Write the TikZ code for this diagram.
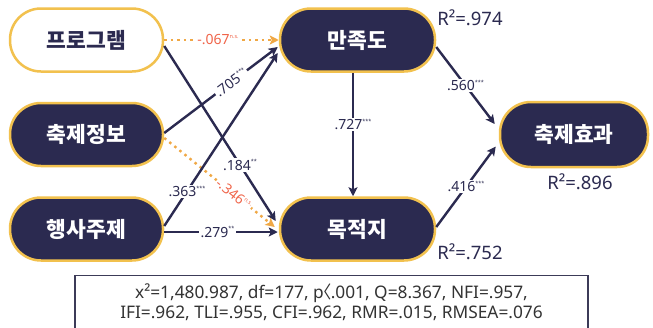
\documentclass[tikz,border=0pt]{standalone}
\usepackage{fontspec}
\setmainfont{Noto Sans}
\newfontfamily\kr{Noto Sans CJK KR}
\usetikzlibrary{arrows.meta,calc}
\definecolor{navy}{HTML}{2B2A50}
\definecolor{gold}{HTML}{F2C14E}
\definecolor{orng}{HTML}{F0A845}
\definecolor{redl}{HTML}{F0654A}
\definecolor{boxtxt}{HTML}{333333}
\definecolor{boxline}{HTML}{3C3B58}
\newcommand{\sig}[1]{\raisebox{0.45em}{\fontsize{5.5}{5.5}\selectfont #1}}
\begin{document}
\begin{tikzpicture}[x=1pt,y=-1pt,
  var/.style={draw=gold, line width=2.5pt, fill=navy, text=white, rounded corners=31pt,
    minimum width=153pt, minimum height=63pt, inner sep=0pt,
    font=\kr\bfseries\fontsize{21.5}{21.5}\selectfont},
  varw/.style={var, fill=white, text=navy},
  pth/.style={navy, line width=2.4pt, -{Stealth[length=9pt,width=9pt,inset=2pt]}},
  nsp/.style={orng, line width=2.4pt, dash pattern=on 2.5pt off 4pt, -{Stealth[length=9pt,width=9pt,inset=2pt]}},
  lab/.style={fill=white, inner sep=1.2pt, text=navy, font=\fontsize{14}{14}\selectfont},
  nslab/.style={lab, text=redl},
  rsq/.style={text=navy, inner sep=0pt, font=\fontsize{18.5}{18.5}\selectfont}
]
\clip (0,0) rectangle (653,327);
\fill[white] (0,0) rectangle (653,327);

% nodes
\node[varw] (prog) at (86.5,40) {프로그램};
\node[var] (info) at (86.5,134.5) {축제정보};
\node[var] (theme) at (86.5,229) {행사주제};
\node[var, minimum width=155pt] (sat) at (357.5,40) {만족도};
\node[var, minimum width=155pt] (dest) at (357.5,229) {목적지};
\node[var, minimum width=148pt, minimum height=65pt] (eff) at (574,134.5) {축제효과};

% connectors
\draw[nsp] (prog.east) -- (sat.west)
  node[nslab, pos=0.47] {-.067\sig{n.s.}};
\draw[pth] ($(prog.east)+(0,6)$) -- ($(dest.west)+(-3,-8)$)
  node[lab, pos=0.68] {.184\sig{**}};
\draw[pth] ($(info.east)+(0,-1.5)$) -- ($(sat.west)+(-1,7)$)
  node[lab, pos=0.59, sloped] {.705\sig{***}};
\draw[nsp] ($(info.east)+(0,3.5)$) -- ($(dest.west)+(-4,-2)$)
  node[nslab, pos=0.63, sloped] {-.346\sig{n.s.}};
\draw[pth] ($(theme.east)+(0,-3)$) -- ($(sat.west)+(-1,13)$)
  node[lab, pos=0.2] {.363\sig{***}};
\draw[pth] ($(theme.east)+(0,3)$) -- ($(dest.west)+(-1,3)$)
  node[lab, pos=0.47] {.279\sig{**}};
\draw[pth] ($(sat.south)+(-4.5,0)$) -- ($(dest.north)+(-4.5,0)$)
  node[lab, pos=0.42] {.727\sig{***}};
\draw[pth] ($(sat.east)+(0,7)$) -- ($(eff.west)+(-4,-10.5)$)
  node[lab, pos=0.5] {.560\sig{***}};
\draw[pth] ($(dest.east)+(0,-2)$) -- ($(eff.west)+(-3,12)$)
  node[lab, pos=0.5] {.416\sig{***}};

% R squared
\node[rsq] (r1) at (470,18) {R²=.974};
\node[rsq] (r2) at (580,182) {R²=.896};
\node[rsq] (r3) at (470,252) {R²=.752};

% fit box
\draw[boxline, line width=1.3pt] (75,275.5) rectangle (588,335);
\node[text=boxtxt, align=center, inner sep=0pt, font=\fontsize{17.3}{20}\selectfont] (fit) at (331.5,302)
  {x²=1,480.987, df=177, p\kern-0.55em{\kr 〈}\kern-0.05em.001, Q=8.367, NFI=.957,\\IFI=.962, TLI=.955, CFI=.962, RMR=.015, RMSEA=.076};
\end{tikzpicture}
\end{document}
